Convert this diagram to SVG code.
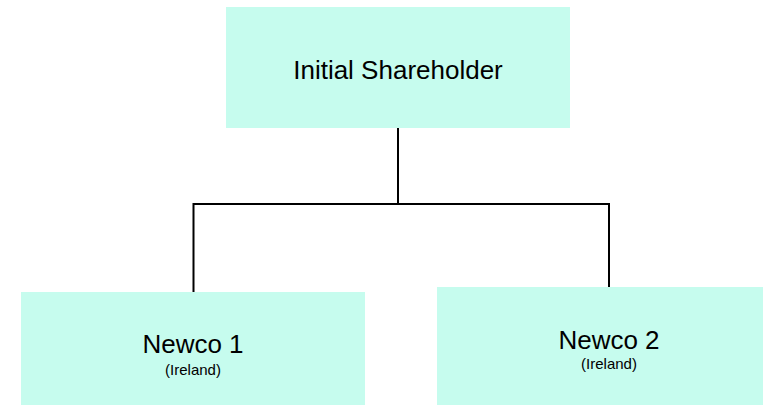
<svg xmlns="http://www.w3.org/2000/svg" width="763" height="405" viewBox="0 0 763 405">
<style>
.box{fill:#c6fcee;stroke:none}
.t{font-family:"Liberation Sans",Arial,sans-serif;fill:#000;text-anchor:middle}
.big{font-size:26px}
.small{font-size:15px}
.conn{fill:none;stroke:#000;stroke-width:2}
</style>
<rect width="763" height="405" fill="#fff"/>
<g id="connectors">
<path class="conn" d="M398 128 V204"/>
<path class="conn" d="M193.5 293 V204 H609 V288"/>
</g>
<g id="initial-shareholder">
<rect class="box" x="226" y="7" width="344" height="121"/>
<text class="t big" x="398" y="79">Initial Shareholder</text>
</g>
<g id="newco1">
<rect class="box" x="21" y="292" width="344" height="113"/>
<text class="t big" x="193" y="353">Newco 1</text>
<text class="t small" x="193" y="375">(Ireland)</text>
</g>
<g id="newco2">
<rect class="box" x="437" y="287" width="326" height="118"/>
<text class="t big" x="609" y="349">Newco 2</text>
<text class="t small" x="609" y="369">(Ireland)</text>
</g>
</svg>
